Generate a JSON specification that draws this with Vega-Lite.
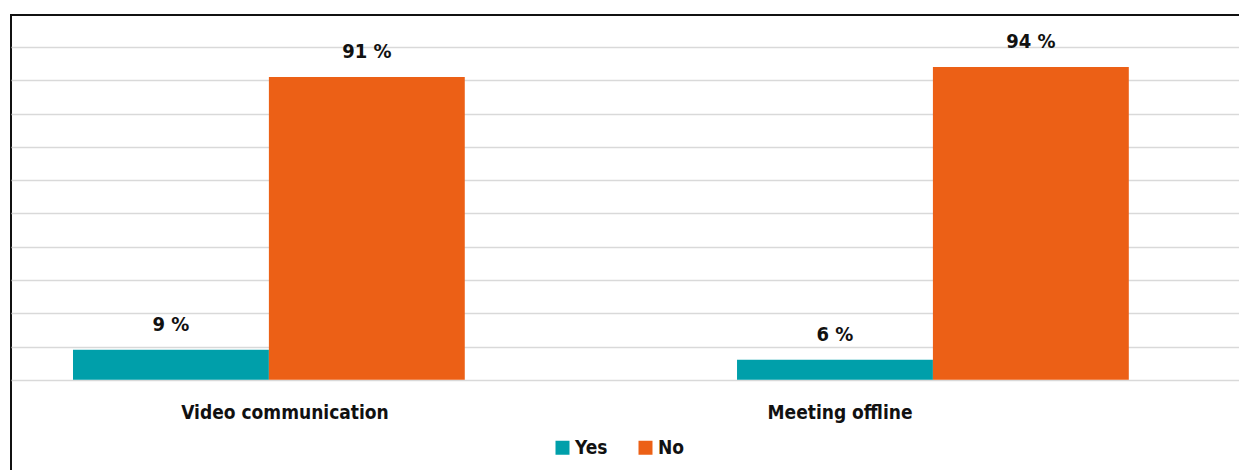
{
  "$schema": "https://vega.github.io/schema/vega-lite/v6.json",
  "width": 1240,
  "height": 458,
  "padding": {"left": 11, "top": 15, "right": 0, "bottom": 0},
  "config": {
    "view": {"stroke": "#111111", "strokeWidth": 2},
    "font": "DejaVu Sans Condensed, Liberation Sans Narrow, sans-serif"
  },
  "datasets": {
    "bars": [
      {"category": "Video communication", "answer": "Yes", "value": 9, "label": "9 %"},
      {"category": "Video communication", "answer": "No", "value": 91, "label": "91 %"},
      {"category": "Meeting offline", "answer": "Yes", "value": 6, "label": "6 %"},
      {"category": "Meeting offline", "answer": "No", "value": 94, "label": "94 %"}
    ],
    "cats": [
      {"category": "Video communication"},
      {"category": "Meeting offline"}
    ]
  },
  "layer": [
    {
      "data": {"name": "bars"},
      "layer": [
        {
          "mark": {"type": "bar"},
          "encoding": {
            "x": {"field": "category", "type": "nominal", "sort": ["Video communication", "Meeting offline"],
                  "scale": {"type": "band", "paddingInner": 0.41, "paddingOuter": 0.1387, "align": 0.3366}, "axis": null},
            "xOffset": {"field": "answer", "type": "nominal", "sort": ["Yes", "No"], "scale": {"paddingInner": 0, "paddingOuter": 0}},
            "y": {"field": "value", "type": "quantitative", "scale": {"domain": [-28, 109.6], "nice": false},
                  "axis": {"values": [0, 10, 20, 30, 40, 50, 60, 70, 80, 90, 100], "labels": false, "ticks": false, "domain": false,
                           "title": null, "grid": true, "gridColor": "#d9d9d9", "gridWidth": 1.5}},
            "color": {"field": "answer", "type": "nominal", "sort": ["Yes", "No"],
                      "scale": {"domain": ["Yes", "No"], "range": ["#009FAA", "#EC6016"]},
                      "legend": {"title": null, "orient": "none", "legendX": 542, "legendY": 423, "direction": "horizontal",
                                 "symbolType": "square", "symbolSize": 196, "symbolStrokeWidth": 0, "symbolOpacity": 1,
                                 "labelFontSize": 19, "labelFontWeight": "bold", "labelColor": "#111111", "labelOffset": 3,
                                 "columnPadding": 28, "padding": 0}}
          }
        },
        {
          "mark": {"type": "text", "fontSize": 20, "fontWeight": "bold", "color": "#111111", "baseline": "alphabetic", "dy": -19},
          "encoding": {
            "x": {"field": "category", "type": "nominal", "sort": ["Video communication", "Meeting offline"]},
            "xOffset": {"field": "answer", "type": "nominal", "sort": ["Yes", "No"]},
            "y": {"field": "value", "type": "quantitative"},
            "text": {"field": "label"}
          }
        }
      ]
    },
    {
      "data": {"name": "cats"},
      "mark": {"type": "text", "fontSize": 19, "fontWeight": "bold", "color": "#111111", "baseline": "alphabetic"},
      "encoding": {
        "x": {"field": "category", "type": "nominal", "sort": ["Video communication", "Meeting offline"],
              "scale": {"type": "point", "padding": 0.617, "align": 0.4}, "axis": null},
        "y": {"datum": -11.7, "type": "quantitative"},
        "text": {"field": "category"}
      }
    }
  ],
  "resolve": {"scale": {"x": "independent"}}
}
